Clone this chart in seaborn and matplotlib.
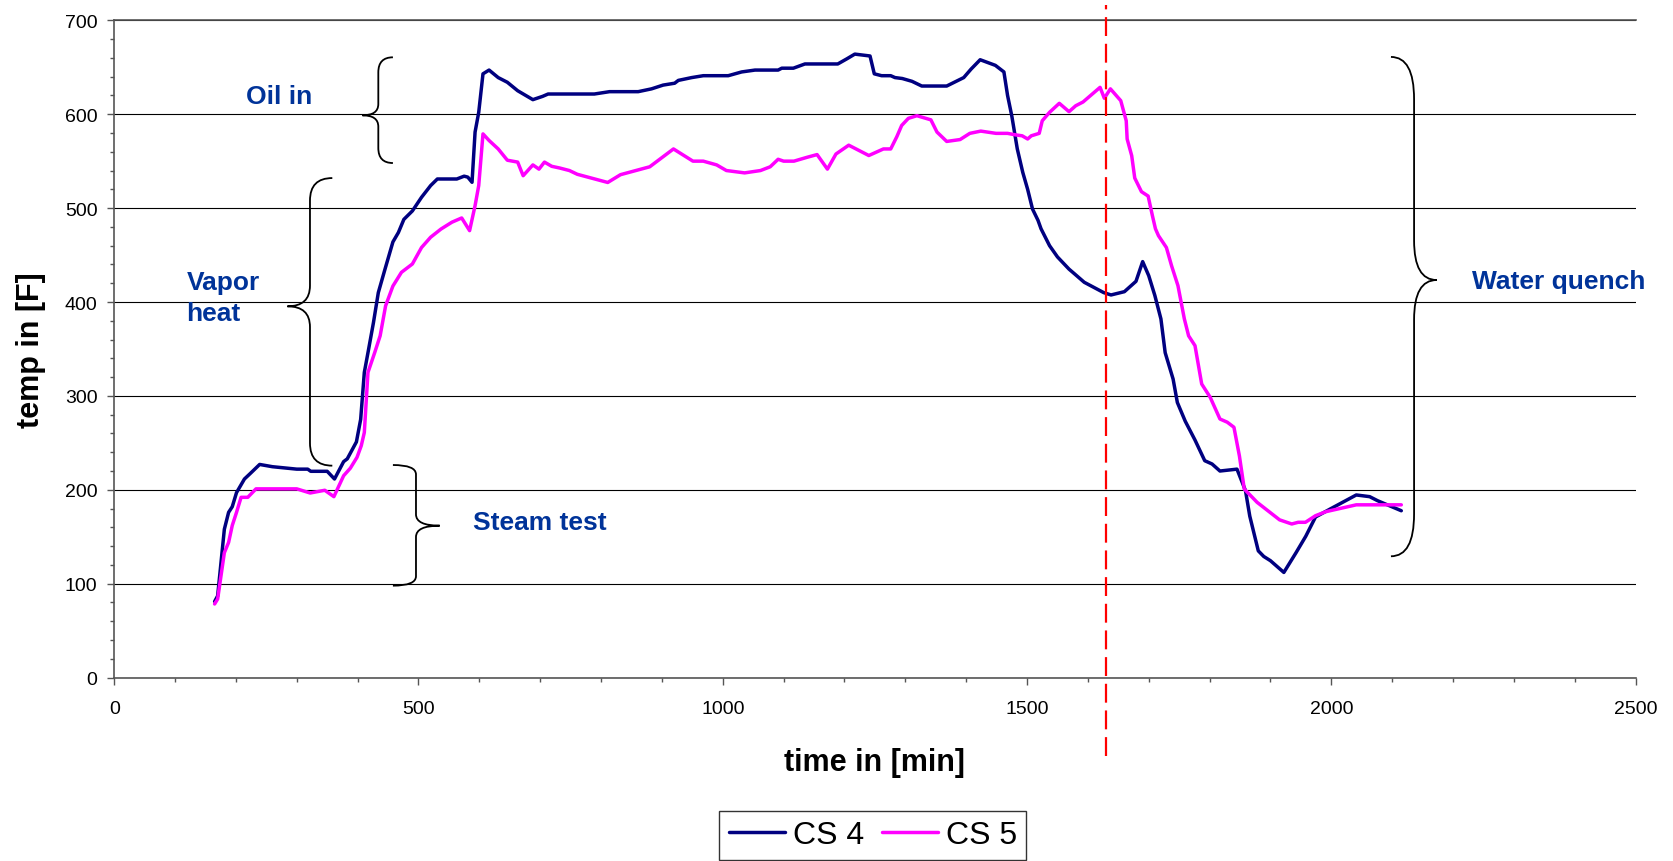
import numpy as np
import pandas as pd
import matplotlib
matplotlib.use("Agg")
import matplotlib.pyplot as plt
from matplotlib.path import Path
from matplotlib.patches import PathPatch
import seaborn as sns

# ---- data -------------------------------------------------------------
cs4_time = [165, 170, 181, 188, 194, 201, 214, 223, 239, 260, 300, 318, 323, 350,
            362, 377, 383, 398, 405, 411, 417, 426, 434, 445, 458, 467, 476, 490,
            505, 520, 531, 563, 575, 581, 588, 593, 599, 606, 616, 631, 646, 663,
            688, 704, 713, 732, 789, 814, 861, 883, 902, 921, 927, 949, 968, 1009,
            1031, 1053, 1091, 1097, 1116, 1135, 1189, 1204, 1217, 1242, 1249, 1261,
            1276, 1283, 1295, 1311, 1327, 1368, 1396, 1408, 1423, 1448, 1462, 1468,
            1475, 1484, 1493, 1501, 1509, 1518, 1523, 1537, 1550, 1569, 1578, 1594,
            1626, 1638, 1660, 1679, 1690, 1700, 1710, 1720, 1727, 1740, 1747, 1760,
            1776, 1792, 1804, 1817, 1845, 1859, 1866, 1880, 1889, 1900, 1922, 1942,
            1958, 1974, 1998, 2041, 2063, 2076, 2115]
cs4_temp = [81, 87, 158, 176, 182, 197, 211.5, 217, 227, 224.6, 222, 222, 219.7, 219.7,
            211.5, 230, 233, 251, 275, 325, 346, 378, 410, 435, 464, 474, 488, 497,
            511.5, 524, 531, 531, 534, 533, 527.5, 581, 602, 643, 647, 639, 634, 625,
            615.5, 619, 621.5, 621.5, 621.5, 624, 624, 627, 631, 633, 636, 639, 641, 641,
            645, 647, 647, 649, 649, 653.5, 653.5, 659, 664, 662, 643, 641,
            641, 639, 638, 635, 630, 630, 639, 648, 658, 652, 645, 620,
            598, 563, 538, 520, 499, 487, 478, 460, 448, 435, 430, 421,
            410, 407.5, 411, 422, 443, 428, 407, 382, 346, 318, 293, 273,
            253, 231, 227.5, 220, 222, 199, 172, 135, 129, 124.5, 112, 133,
            150.5, 171, 179.5, 194.5, 192.7, 188.4, 177.7]

cs5_time = [165, 170, 181, 188, 194, 201, 208.5, 219.5, 233, 300, 322, 346, 361, 377,
            388, 399, 406, 411, 417, 428, 437, 446, 458, 472, 490, 505, 520, 537,
            555, 571, 584, 593, 599, 606, 616, 631, 646, 663, 672, 688, 698, 707,
            719, 732, 748, 761, 811, 832, 880, 919, 951, 968, 990, 1006, 1036, 1062,
            1078, 1091, 1100, 1117, 1138, 1155, 1172, 1186, 1207, 1240, 1264, 1276,
            1286, 1294, 1305, 1319, 1342, 1352, 1368, 1390, 1406, 1424, 1449, 1468,
            1481, 1492, 1501, 1507, 1520, 1525, 1537, 1553, 1569, 1580, 1592, 1620,
            1627, 1637, 1654, 1663, 1664.5, 1672, 1677, 1688, 1699, 1706, 1711, 1716,
            1729, 1737.5, 1748, 1758.5, 1765.5, 1776, 1787, 1801, 1817, 1829, 1840,
            1849, 1857, 1878, 1915, 1935, 1945.5, 1957.5, 1974, 1991, 2041, 2115]
cs5_temp = [78.4, 83.7, 133, 144, 162, 176, 192, 192, 201, 201, 196.6, 199.5, 192.7, 215,
            223, 234.6, 247, 261, 325, 346, 364, 396, 417, 431.6, 440.5, 458, 469, 477.7,
            485, 489.5, 476, 502.6, 524, 579, 572, 563, 551, 549, 534.5, 546, 541.5, 549,
            544.5, 542.7, 540, 536, 527.3, 535.6, 544, 563, 550, 550, 546, 540, 537.5, 540,
            544, 552, 550, 550, 554, 557, 541.5, 557.6, 567, 556, 563, 563,
            576, 588, 595.6, 598.4, 594, 581, 571, 573, 579.6, 582, 579.6, 579.6,
            578, 577, 573.6, 577, 579.6, 593, 602, 611.6, 602.7, 609, 613, 628.6,
            617, 627, 614.4, 593, 573.6, 555.8, 532, 517.5, 512.8, 492, 478, 470.6,
            458, 438.6, 417.4, 382, 364, 353.5, 312.7, 298.5, 275.4, 272, 266.6,
            236, 200.8, 186.7, 168, 163.6, 165.4, 165.4, 172.4, 176.7, 184, 184]

series_names = ["CS 4", "CS 5"]
quench_start = 1630
phase_labels = ["Oil in", "Vapor\nheat", "Steam test", "Water quench"]

# ---- style ------------------------------------------------------------
sns.set_theme(style="white")
plt.rcParams["font.family"] = ["Liberation Sans", "DejaVu Sans"]
plt.rcParams["text.color"] = "black"
plt.rcParams["axes.labelcolor"] = "black"

navy = "#000080"
magenta = "#FF00FF"
label_blue = "#003399"
axis_grey = "#555555"

df = pd.concat([
    pd.DataFrame({"time": cs4_time, "temp": cs4_temp, "series": series_names[0]}),
    pd.DataFrame({"time": cs5_time, "temp": cs5_temp, "series": series_names[1]}),
], ignore_index=True)

fig = plt.figure(figsize=(16.73, 8.62), dpi=100)
ax = fig.add_axes([0.06826, 0.21276, 0.90938, 0.76253])

sns.lineplot(data=df, x="time", y="temp", hue="series", estimator=None,
             palette={series_names[0]: navy, series_names[1]: magenta},
             linewidth=2.5, ax=ax, legend=False, zorder=3)

ax.set_xlim(0, 2500)
ax.set_ylim(0, 700)
ax.set_xticks(np.arange(0, 2501, 500))
ax.set_xticks(np.arange(0, 2501, 100), minor=True)
ax.set_yticks(np.arange(0, 701, 100))
ax.set_yticks(np.arange(0, 701, 20), minor=True)

ax.yaxis.grid(True, which="major", color="black", linewidth=0.8, zorder=1)
ax.xaxis.grid(False)
ax.set_axisbelow(True)

for side in ["left", "bottom", "top"]:
    ax.spines[side].set_color(axis_grey)
    ax.spines[side].set_linewidth(1.2)
ax.spines["right"].set_visible(False)

ax.tick_params(axis="both", which="major", direction="out", length=5, width=1,
               color=axis_grey, labelsize=14, labelcolor="black")
ax.tick_params(axis="both", which="minor", direction="out", length=3, width=1,
               color=axis_grey)
ax.tick_params(axis="x", which="major", pad=11)
ax.tick_params(axis="y", which="major", pad=7)
ax.tick_params(bottom=True, left=True, which="both")

ax.set_xlabel("time in [min]", fontsize=22, fontweight="bold", color="black")
ax.set_ylabel("temp in [F]", fontsize=22, fontweight="bold", color="black")
ax.xaxis.label.set_va("center")
ax.yaxis.label.set_va("center")
ax.xaxis.set_label_coords(0.5, -0.128)
ax.yaxis.set_label_coords(-0.0547, 0.5)

# start of the water quench
ax.axvline(quench_start, ymin=-0.119, ymax=1.024, color="#FF0000", linewidth=1.6,
           linestyle=(0, (8.5, 3.5)), clip_on=False, zorder=4)


def brace(x_spine, x_tip, x_end, y_top, y_mid, y_bot, r_end, r_mid):
    """Curly brace drawn in data coordinates; the tip points towards x_tip."""
    verts = [
        (x_end, y_top), (x_spine, y_top), (x_spine, y_top - r_end),
        (x_spine, y_mid + r_mid), (x_spine, y_mid), (x_tip, y_mid),
        (x_spine, y_mid), (x_spine, y_mid - r_mid),
        (x_spine, y_bot + r_end), (x_spine, y_bot), (x_end, y_bot),
    ]
    codes = [Path.MOVETO, Path.CURVE3, Path.CURVE3,
             Path.LINETO, Path.CURVE3, Path.CURVE3,
             Path.CURVE3, Path.CURVE3,
             Path.LINETO, Path.CURVE3, Path.CURVE3]
    ax.add_patch(PathPatch(Path(verts, codes), facecolor="none", edgecolor="black",
                           linewidth=1.3, zorder=3, clip_on=False))


brace(434, 408, 458, 660.6, 598.8, 548, 16, 12)       # oil in
brace(321.7, 284.7, 358.4, 532, 395.4, 225.7, 24, 22)  # vapor heat
brace(495.9, 534.8, 458, 226.4, 161.8, 97.9, 10, 12)   # steam test
brace(2136, 2173, 2098, 661, 423.4, 129.2, 45, 42)     # water quench

text_kw = dict(color=label_blue, fontsize=19, fontweight="bold", va="center")
ax.text(271, 619.7, phase_labels[0], ha="center", **text_kw)
ax.text(119, 404.5, phase_labels[1], ha="left", linespacing=1.35, **text_kw)
ax.text(590, 165.4, phase_labels[2], ha="left", **text_kw)
ax.text(2231, 422.7, phase_labels[3], ha="left", **text_kw)

handles = [plt.Line2D([], [], color=navy, linewidth=2.5),
           plt.Line2D([], [], color=magenta, linewidth=2.5)]
fig.legend(handles, series_names, loc="upper center",
           bbox_to_anchor=(0.5217, 0.0583), ncol=2, fontsize=23,
           frameon=True, fancybox=False, framealpha=1, edgecolor="#333333",
           handlelength=1.75, handletextpad=0.25, columnspacing=0.55,
           borderpad=0.3, borderaxespad=0)

fig.savefig("out.png", dpi=100)
